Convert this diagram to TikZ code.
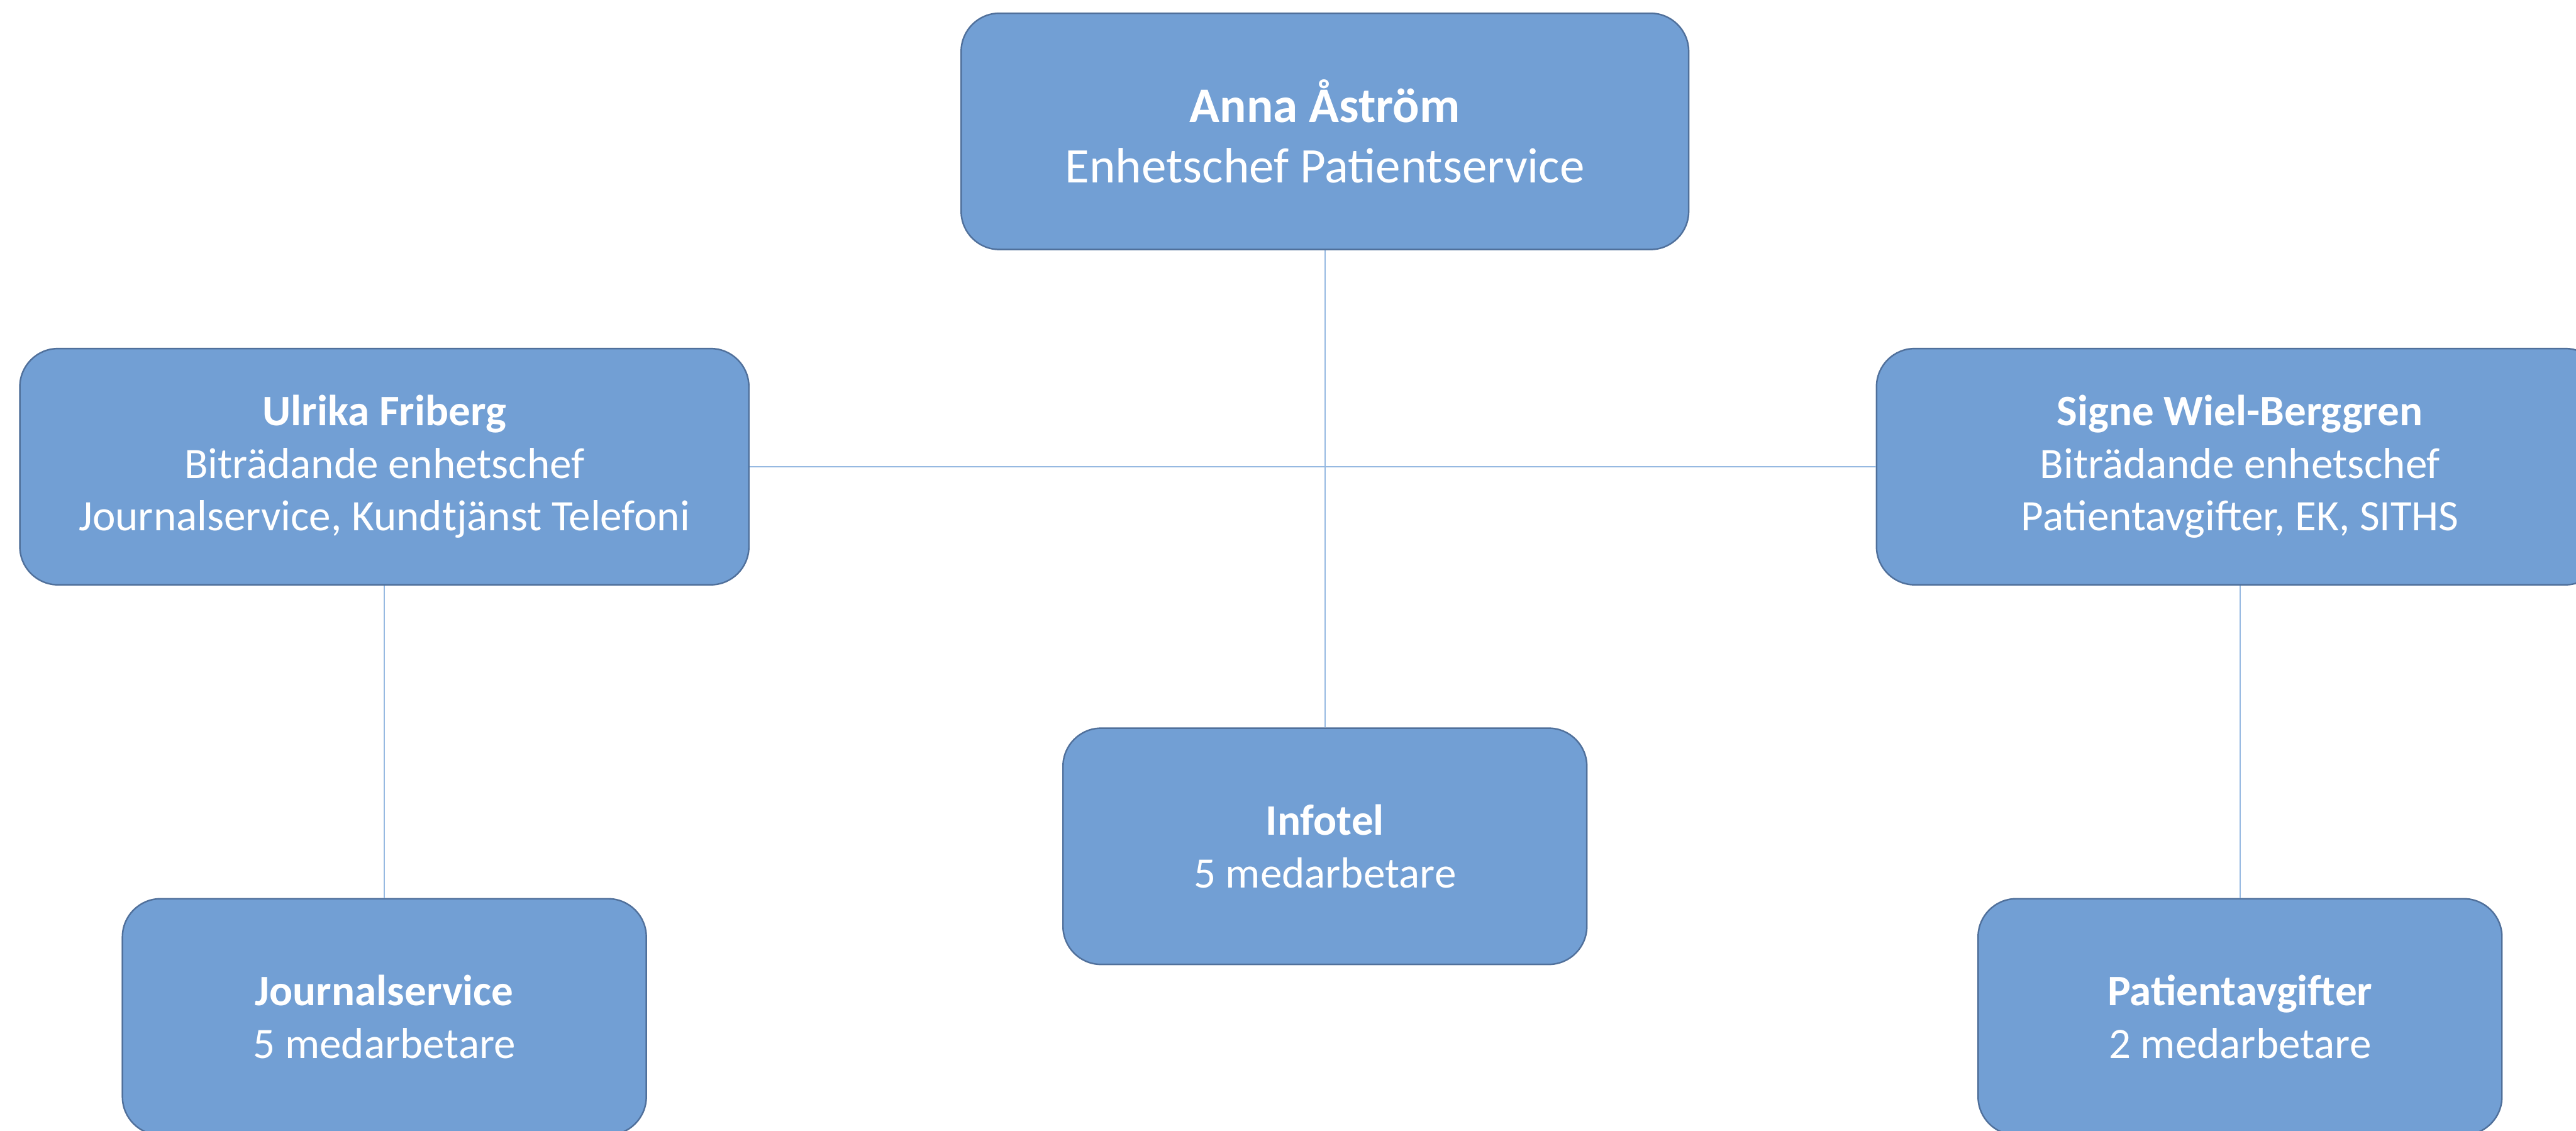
\documentclass[tikz,border=0pt]{standalone}
\usepackage{fontspec}
\setmainfont{Carlito}
\definecolor{boxfill}{RGB}{114,159,212}
\definecolor{boxline}{RGB}{80,112,155}
\definecolor{connc}{RGB}{150,185,225}
\begin{document}
\begin{tikzpicture}[
  orgbox/.style={draw=boxline, line width=0.03cm, fill=boxfill, rounded corners=0.75cm,
    text=white, align=center, font=\fontsize{24.3}{29.3}\selectfont, inner sep=0pt,
    minimum height=4.64cm},
  bigtext/.style={font=\fontsize{27.8}{33.8}\selectfont},
  conn/.style={draw=connc, line width=0.03cm}]
\useasboundingbox (0,0) rectangle (50.6,-22.2);
\clip (0,0) rectangle (50.6,-22.2);
\node[orgbox, bigtext, minimum width=14.29cm] (top) at (26.025,-2.58) {\textbf{Anna Åström}\\Enhetschef Patientservice};
\node[orgbox, minimum width=14.32cm] (left) at (7.55,-9.165) {\textbf{Ulrika Friberg}\\Biträdande enhetschef\\Journalservice, Kundtjänst Telefoni};
\node[orgbox, minimum width=14.28cm] (right) at (44.0,-9.165) {\textbf{Signe Wiel-Berggren}\\Biträdande enhetschef\\Patientavgifter, EK, SITHS};
\node[orgbox, minimum width=10.29cm] (info) at (26.025,-16.62) {\textbf{Infotel}\\5 medarbetare};
\node[orgbox, minimum width=10.29cm] (journal) at (7.55,-19.97) {\textbf{Journalservice}\\5 medarbetare};
\node[orgbox, minimum width=10.29cm] (patient) at (44.0,-19.97) {\textbf{Patientavgifter}\\2 medarbetare};
\draw[conn] (top.south) -- (info.north);
\draw[conn] (left.east) -- (right.west);
\draw[conn] (left.south) -- (journal.north);
\draw[conn] (right.south) -- (patient.north);
\end{tikzpicture}
\end{document}
